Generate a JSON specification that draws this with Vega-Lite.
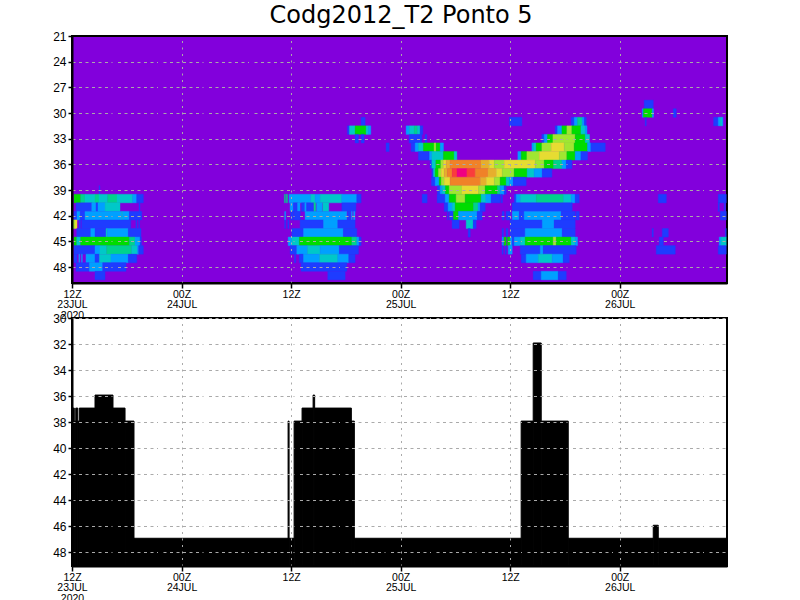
{"$schema":"https://vega.github.io/schema/vega-lite/v6.json","padding":{"left":51,"top":4,"right":0,"bottom":0},"background":"white","title":{"text":"Codg2012_T2 Ponto 5","font":"DejaVu Sans","fontSize":24,"fontWeight":"normal","color":"black","anchor":"middle","offset":1,"dx":11},"spacing":35,"bounds":"flush","config":{"view":{"stroke":"black","strokeWidth":2}},"datasets":{"cells":[
{"t0":2.96,"t1":3.05,"y0":38.5,"y1":39.5,"c":1},
{"t0":0.22,"t1":0.95,"y0":39.5,"y1":40.5,"c":5},{"t0":0.95,"t1":1.42,"y0":39.5,"y1":40.5,"c":4},{"t0":1.42,"t1":2.52,"y0":39.5,"y1":40.5,"c":3},{"t0":2.52,"t1":2.96,"y0":39.5,"y1":40.5,"c":4},{"t0":2.96,"t1":3.91,"y0":39.5,"y1":40.5,"c":3},{"t0":3.91,"t1":4.93,"y0":39.5,"y1":40.5,"c":4},{"t0":4.93,"t1":6.65,"y0":39.5,"y1":40.5,"c":3},{"t0":6.65,"t1":7.09,"y0":39.5,"y1":40.5,"c":2},{"t0":7.09,"t1":7.81,"y0":39.5,"y1":40.5,"c":1},
{"t0":0.44,"t1":2.16,"y0":40.5,"y1":41.5,"c":1},{"t0":2.16,"t1":2.63,"y0":40.5,"y1":41.5,"c":2},{"t0":2.63,"t1":2.85,"y0":40.5,"y1":41.5,"c":1},{"t0":2.85,"t1":3.62,"y0":40.5,"y1":41.5,"c":2},{"t0":3.62,"t1":5.26,"y0":40.5,"y1":41.5,"c":3},{"t0":7.34,"t1":7.45,"y0":40.5,"y1":41.5,"c":1},
{"t0":0.22,"t1":0.55,"y0":41.5,"y1":42.5,"c":1},{"t0":0.55,"t1":0.9,"y0":41.5,"y1":42.5,"c":2},{"t0":0.9,"t1":1.42,"y0":41.5,"y1":42.5,"c":1},{"t0":1.42,"t1":5.45,"y0":41.5,"y1":42.5,"c":2},{"t0":5.45,"t1":5.56,"y0":41.5,"y1":42.5,"c":3},{"t0":5.56,"t1":6.28,"y0":41.5,"y1":42.5,"c":2},{"t0":6.28,"t1":7.64,"y0":41.5,"y1":42.5,"c":1},
{"t0":0.11,"t1":0.33,"y0":42.5,"y1":43.5,"c":6},{"t0":0.33,"t1":0.55,"y0":42.5,"y1":43.5,"c":7},{"t0":0.77,"t1":0.95,"y0":42.5,"y1":43.5,"c":1},{"t0":1.06,"t1":6.43,"y0":42.5,"y1":43.5,"c":1},{"t0":7.0,"t1":7.1,"y0":42.5,"y1":43.5,"c":1},{"t0":7.3,"t1":7.4,"y0":42.5,"y1":43.5,"c":1},
{"t0":0.52,"t1":2.05,"y0":43.5,"y1":44.5,"c":1},{"t0":2.05,"t1":2.52,"y0":43.5,"y1":44.5,"c":2},{"t0":2.52,"t1":3.73,"y0":43.5,"y1":44.5,"c":1},{"t0":3.73,"t1":3.88,"y0":43.5,"y1":44.5,"c":3},{"t0":3.88,"t1":6.17,"y0":43.5,"y1":44.5,"c":2},{"t0":6.17,"t1":7.56,"y0":43.5,"y1":44.5,"c":1},
{"t0":0.22,"t1":0.52,"y0":44.5,"y1":45.5,"c":5},{"t0":0.52,"t1":0.95,"y0":44.5,"y1":45.5,"c":3},{"t0":0.95,"t1":6.28,"y0":44.5,"y1":45.5,"c":5},{"t0":6.28,"t1":6.9,"y0":44.5,"y1":45.5,"c":4},{"t0":6.9,"t1":7.45,"y0":44.5,"y1":45.5,"c":2},{"t0":7.45,"t1":7.6,"y0":44.5,"y1":45.5,"c":1},
{"t0":0.22,"t1":2.52,"y0":45.5,"y1":46.5,"c":1},{"t0":2.52,"t1":3.07,"y0":45.5,"y1":46.5,"c":2},{"t0":3.07,"t1":3.8,"y0":45.5,"y1":46.5,"c":3},{"t0":3.8,"t1":6.54,"y0":45.5,"y1":46.5,"c":4},{"t0":6.54,"t1":7.16,"y0":45.5,"y1":46.5,"c":3},{"t0":7.16,"t1":7.31,"y0":45.5,"y1":46.5,"c":2},{"t0":7.31,"t1":7.81,"y0":45.5,"y1":46.5,"c":1},
{"t0":0.22,"t1":0.55,"y0":46.5,"y1":47.5,"c":1},{"t0":0.75,"t1":0.85,"y0":46.5,"y1":47.5,"c":2},{"t0":1.03,"t1":1.13,"y0":46.5,"y1":47.5,"c":2},{"t0":1.53,"t1":2.52,"y0":46.5,"y1":47.5,"c":2},{"t0":2.52,"t1":3.0,"y0":46.5,"y1":47.5,"c":1},{"t0":3.0,"t1":4.27,"y0":46.5,"y1":47.5,"c":3},{"t0":4.27,"t1":6.17,"y0":46.5,"y1":47.5,"c":2},{"t0":6.17,"t1":7.09,"y0":46.5,"y1":47.5,"c":1},
{"t0":0.44,"t1":1.9,"y0":47.5,"y1":48.5,"c":1},{"t0":1.9,"t1":3.37,"y0":47.5,"y1":48.5,"c":2},{"t0":3.37,"t1":5.92,"y0":47.5,"y1":48.5,"c":1},
{"t0":2.52,"t1":3.62,"y0":48.5,"y1":49.5,"c":1},
{"t0":23.27,"t1":23.37,"y0":39.5,"y1":40.5,"c":4},{"t0":23.47,"t1":23.6,"y0":39.5,"y1":40.5,"c":4},{"t0":23.78,"t1":26.16,"y0":39.5,"y1":40.5,"c":2},{"t0":26.16,"t1":26.63,"y0":39.5,"y1":40.5,"c":3},{"t0":26.63,"t1":27.18,"y0":39.5,"y1":40.5,"c":2},{"t0":27.18,"t1":29.56,"y0":39.5,"y1":40.5,"c":3},{"t0":29.56,"t1":31.2,"y0":39.5,"y1":40.5,"c":2},{"t0":31.2,"t1":31.67,"y0":39.5,"y1":40.5,"c":1},
{"t0":23.89,"t1":24.25,"y0":40.5,"y1":41.5,"c":2},{"t0":24.25,"t1":24.7,"y0":40.5,"y1":41.5,"c":1},{"t0":24.7,"t1":24.98,"y0":40.5,"y1":41.5,"c":2},{"t0":25.15,"t1":25.5,"y0":40.5,"y1":41.5,"c":1},{"t0":25.5,"t1":25.7,"y0":40.5,"y1":41.5,"c":2},{"t0":25.7,"t1":26.45,"y0":40.5,"y1":41.5,"c":1},{"t0":26.5,"t1":26.7,"y0":40.5,"y1":41.5,"c":4},{"t0":26.8,"t1":27.4,"y0":40.5,"y1":41.5,"c":2},{"t0":27.47,"t1":28.13,"y0":40.5,"y1":41.5,"c":3},{"t0":29.56,"t1":31.1,"y0":40.5,"y1":41.5,"c":1},
{"t0":23.3,"t1":23.4,"y0":41.5,"y1":42.5,"c":2},{"t0":23.95,"t1":24.25,"y0":41.5,"y1":42.5,"c":1},{"t0":24.3,"t1":25.0,"y0":41.5,"y1":42.5,"c":1},{"t0":25.53,"t1":30.1,"y0":41.5,"y1":42.5,"c":2},{"t0":30.2,"t1":30.5,"y0":41.5,"y1":42.5,"c":1},{"t0":30.6,"t1":30.7,"y0":41.5,"y1":42.5,"c":2},{"t0":30.85,"t1":31.0,"y0":41.5,"y1":42.5,"c":2},
{"t0":23.3,"t1":23.4,"y0":42.5,"y1":43.5,"c":1},{"t0":23.65,"t1":23.75,"y0":42.5,"y1":43.5,"c":1},{"t0":24.99,"t1":27.54,"y0":42.5,"y1":43.5,"c":1},{"t0":27.54,"t1":29.12,"y0":42.5,"y1":43.5,"c":2},{"t0":29.12,"t1":31.01,"y0":42.5,"y1":43.5,"c":1},
{"t0":24.08,"t1":25.35,"y0":43.5,"y1":44.5,"c":1},{"t0":25.35,"t1":29.73,"y0":43.5,"y1":44.5,"c":2},{"t0":29.73,"t1":31.2,"y0":43.5,"y1":44.5,"c":1},
{"t0":23.68,"t1":24.08,"y0":44.5,"y1":45.5,"c":2},{"t0":24.08,"t1":24.91,"y0":44.5,"y1":45.5,"c":3},{"t0":24.91,"t1":30.65,"y0":44.5,"y1":45.5,"c":5},{"t0":30.65,"t1":31.2,"y0":44.5,"y1":45.5,"c":4},{"t0":31.2,"t1":31.45,"y0":44.5,"y1":45.5,"c":2},{"t0":31.45,"t1":31.67,"y0":44.5,"y1":45.5,"c":1},
{"t0":23.9,"t1":24.62,"y0":45.5,"y1":46.5,"c":1},{"t0":24.62,"t1":25.79,"y0":45.5,"y1":46.5,"c":2},{"t0":25.79,"t1":27.18,"y0":45.5,"y1":46.5,"c":3},{"t0":27.18,"t1":29.29,"y0":45.5,"y1":46.5,"c":2},{"t0":29.29,"t1":31.38,"y0":45.5,"y1":46.5,"c":1},
{"t0":24.38,"t1":24.5,"y0":46.5,"y1":47.5,"c":1},{"t0":24.9,"t1":25.35,"y0":46.5,"y1":47.5,"c":1},{"t0":25.35,"t1":27.12,"y0":46.5,"y1":47.5,"c":2},{"t0":27.12,"t1":29.12,"y0":46.5,"y1":47.5,"c":3},{"t0":29.12,"t1":30.32,"y0":46.5,"y1":47.5,"c":2},{"t0":30.32,"t1":31.01,"y0":46.5,"y1":47.5,"c":1},
{"t0":25.1,"t1":30.1,"y0":47.5,"y1":48.5,"c":1},
{"t0":28.02,"t1":29.92,"y0":48.5,"y1":49.5,"c":1},
{"t0":31.67,"t1":32.11,"y0":30.5,"y1":31.5,"c":1},{"t0":47.92,"t1":49.28,"y0":30.5,"y1":31.5,"c":1},{"t0":54.68,"t1":55.01,"y0":30.5,"y1":31.5,"c":1},{"t0":55.01,"t1":55.38,"y0":30.5,"y1":31.5,"c":2},{"t0":55.38,"t1":55.89,"y0":30.5,"y1":31.5,"c":4},{"t0":55.89,"t1":56.11,"y0":30.5,"y1":31.5,"c":2},{"t0":56.11,"t1":56.33,"y0":30.5,"y1":31.5,"c":1},
{"t0":30.17,"t1":30.39,"y0":31.5,"y1":32.5,"c":1},{"t0":30.39,"t1":31.01,"y0":31.5,"y1":32.5,"c":3},{"t0":31.01,"t1":32.22,"y0":31.5,"y1":32.5,"c":5},{"t0":32.22,"t1":32.47,"y0":31.5,"y1":32.5,"c":3},{"t0":32.47,"t1":32.73,"y0":31.5,"y1":32.5,"c":2},
{"t0":36.6,"t1":36.96,"y0":31.5,"y1":32.5,"c":2},{"t0":36.96,"t1":37.48,"y0":31.5,"y1":32.5,"c":3},{"t0":37.48,"t1":37.84,"y0":31.5,"y1":32.5,"c":4},{"t0":37.84,"t1":38.14,"y0":31.5,"y1":32.5,"c":3},{"t0":38.14,"t1":38.43,"y0":31.5,"y1":32.5,"c":1},
{"t0":52.93,"t1":53.18,"y0":31.5,"y1":32.5,"c":1},{"t0":53.18,"t1":53.67,"y0":31.5,"y1":32.5,"c":2},{"t0":53.67,"t1":54.21,"y0":31.5,"y1":32.5,"c":5},{"t0":54.21,"t1":54.76,"y0":31.5,"y1":32.5,"c":6},{"t0":54.76,"t1":55.75,"y0":31.5,"y1":32.5,"c":5},{"t0":55.75,"t1":56.22,"y0":31.5,"y1":32.5,"c":3},{"t0":56.22,"t1":56.41,"y0":31.5,"y1":32.5,"c":2},
{"t0":31.01,"t1":31.38,"y0":32.5,"y1":33.5,"c":1},{"t0":31.67,"t1":32.0,"y0":32.5,"y1":33.5,"c":1},{"t0":36.93,"t1":38.32,"y0":32.5,"y1":33.5,"c":1},{"t0":38.68,"t1":38.87,"y0":32.5,"y1":33.5,"c":1},
{"t0":51.47,"t1":51.73,"y0":32.5,"y1":33.5,"c":1},{"t0":51.73,"t1":52.09,"y0":32.5,"y1":33.5,"c":2},{"t0":52.09,"t1":52.68,"y0":32.5,"y1":33.5,"c":5},{"t0":52.68,"t1":55.12,"y0":32.5,"y1":33.5,"c":6},{"t0":55.12,"t1":56.22,"y0":32.5,"y1":33.5,"c":5},{"t0":56.22,"t1":56.69,"y0":32.5,"y1":33.5,"c":3},
{"t0":34.41,"t1":34.74,"y0":33.5,"y1":34.5,"c":1},{"t0":37.15,"t1":37.59,"y0":33.5,"y1":34.5,"c":1},{"t0":37.59,"t1":37.95,"y0":33.5,"y1":34.5,"c":2},{"t0":37.95,"t1":38.5,"y0":33.5,"y1":34.5,"c":3},{"t0":38.5,"t1":39.67,"y0":33.5,"y1":34.5,"c":5},{"t0":39.67,"t1":39.89,"y0":33.5,"y1":34.5,"c":6},{"t0":39.89,"t1":40.33,"y0":33.5,"y1":34.5,"c":5},{"t0":40.33,"t1":40.69,"y0":33.5,"y1":34.5,"c":2},
{"t0":50.38,"t1":50.55,"y0":33.5,"y1":34.5,"c":2},{"t0":50.55,"t1":50.85,"y0":33.5,"y1":34.5,"c":3},{"t0":50.85,"t1":51.47,"y0":33.5,"y1":34.5,"c":5},{"t0":51.47,"t1":52.49,"y0":33.5,"y1":34.5,"c":6},{"t0":52.49,"t1":53.92,"y0":33.5,"y1":34.5,"c":7},{"t0":53.92,"t1":55.01,"y0":33.5,"y1":34.5,"c":6},{"t0":55.01,"t1":56.47,"y0":33.5,"y1":34.5,"c":5},{"t0":56.47,"t1":56.84,"y0":33.5,"y1":34.5,"c":2},{"t0":56.84,"t1":58.41,"y0":33.5,"y1":34.5,"c":1},
{"t0":37.95,"t1":39.16,"y0":34.5,"y1":35.5,"c":1},{"t0":39.16,"t1":39.42,"y0":34.5,"y1":35.5,"c":2},{"t0":39.42,"t1":40.69,"y0":34.5,"y1":35.5,"c":3},{"t0":40.69,"t1":41.86,"y0":34.5,"y1":35.5,"c":5},{"t0":41.86,"t1":42.16,"y0":34.5,"y1":35.5,"c":3},
{"t0":48.84,"t1":49.21,"y0":34.5,"y1":35.5,"c":2},{"t0":49.21,"t1":49.83,"y0":34.5,"y1":35.5,"c":5},{"t0":49.83,"t1":51.18,"y0":34.5,"y1":35.5,"c":6},{"t0":51.18,"t1":53.37,"y0":34.5,"y1":35.5,"c":7},{"t0":53.37,"t1":54.21,"y0":34.5,"y1":35.5,"c":6},{"t0":54.21,"t1":55.12,"y0":34.5,"y1":35.5,"c":5},{"t0":55.12,"t1":55.75,"y0":34.5,"y1":35.5,"c":2},{"t0":55.75,"t1":56.47,"y0":34.5,"y1":35.5,"c":1},
{"t0":39.23,"t1":39.42,"y0":35.5,"y1":36.5,"c":1},{"t0":39.42,"t1":39.86,"y0":35.5,"y1":36.5,"c":3},{"t0":39.86,"t1":40.4,"y0":35.5,"y1":36.5,"c":5},{"t0":40.4,"t1":40.69,"y0":35.5,"y1":36.5,"c":6},{"t0":40.69,"t1":40.99,"y0":35.5,"y1":36.5,"c":7},{"t0":40.99,"t1":41.42,"y0":35.5,"y1":36.5,"c":8},{"t0":41.42,"t1":44.79,"y0":35.5,"y1":36.5,"c":9},{"t0":44.79,"t1":45.7,"y0":35.5,"y1":36.5,"c":8},{"t0":45.7,"t1":46.25,"y0":35.5,"y1":36.5,"c":7},{"t0":46.25,"t1":47.34,"y0":35.5,"y1":36.5,"c":6},{"t0":47.34,"t1":50.74,"y0":35.5,"y1":36.5,"c":7},{"t0":50.74,"t1":51.73,"y0":35.5,"y1":36.5,"c":6},{"t0":51.73,"t1":52.75,"y0":35.5,"y1":36.5,"c":5},{"t0":52.75,"t1":53.67,"y0":35.5,"y1":36.5,"c":4},{"t0":53.67,"t1":54.14,"y0":35.5,"y1":36.5,"c":2},{"t0":54.14,"t1":54.76,"y0":35.5,"y1":36.5,"c":1},
{"t0":39.42,"t1":39.6,"y0":36.5,"y1":37.5,"c":1},{"t0":39.6,"t1":39.78,"y0":36.5,"y1":37.5,"c":3},{"t0":39.78,"t1":40.14,"y0":36.5,"y1":37.5,"c":5},{"t0":40.14,"t1":40.44,"y0":36.5,"y1":37.5,"c":6},{"t0":40.44,"t1":40.77,"y0":36.5,"y1":37.5,"c":7},{"t0":40.77,"t1":41.13,"y0":36.5,"y1":37.5,"c":8},{"t0":41.13,"t1":41.64,"y0":36.5,"y1":37.5,"c":9},{"t0":41.64,"t1":42.19,"y0":36.5,"y1":37.5,"c":10},{"t0":42.19,"t1":43.25,"y0":36.5,"y1":37.5,"c":11},{"t0":43.25,"t1":44.16,"y0":36.5,"y1":37.5,"c":10},{"t0":44.16,"t1":45.56,"y0":36.5,"y1":37.5,"c":9},{"t0":45.56,"t1":46.47,"y0":36.5,"y1":37.5,"c":8},{"t0":46.47,"t1":47.12,"y0":36.5,"y1":37.5,"c":7},{"t0":47.12,"t1":48.44,"y0":36.5,"y1":37.5,"c":6},{"t0":48.44,"t1":49.86,"y0":36.5,"y1":37.5,"c":5},{"t0":49.86,"t1":50.63,"y0":36.5,"y1":37.5,"c":3},{"t0":50.63,"t1":51.51,"y0":36.5,"y1":37.5,"c":2},{"t0":51.51,"t1":52.57,"y0":36.5,"y1":37.5,"c":1},
{"t0":39.38,"t1":39.78,"y0":37.5,"y1":38.5,"c":1},{"t0":39.78,"t1":40.22,"y0":37.5,"y1":38.5,"c":2},{"t0":40.22,"t1":40.44,"y0":37.5,"y1":38.5,"c":5},{"t0":40.44,"t1":40.77,"y0":37.5,"y1":38.5,"c":6},{"t0":40.77,"t1":41.42,"y0":37.5,"y1":38.5,"c":7},{"t0":41.42,"t1":44.71,"y0":37.5,"y1":38.5,"c":9},{"t0":44.71,"t1":45.37,"y0":37.5,"y1":38.5,"c":8},{"t0":45.37,"t1":46.25,"y0":37.5,"y1":38.5,"c":7},{"t0":46.25,"t1":46.9,"y0":37.5,"y1":38.5,"c":6},{"t0":46.9,"t1":47.56,"y0":37.5,"y1":38.5,"c":5},{"t0":47.56,"t1":47.89,"y0":37.5,"y1":38.5,"c":3},{"t0":47.89,"t1":48.33,"y0":37.5,"y1":38.5,"c":2},{"t0":48.33,"t1":49.75,"y0":37.5,"y1":38.5,"c":1},
{"t0":40.03,"t1":40.33,"y0":38.5,"y1":39.5,"c":1},{"t0":40.33,"t1":40.55,"y0":38.5,"y1":39.5,"c":2},{"t0":40.55,"t1":40.91,"y0":38.5,"y1":39.5,"c":3},{"t0":40.91,"t1":41.32,"y0":38.5,"y1":39.5,"c":5},{"t0":41.32,"t1":42.71,"y0":38.5,"y1":39.5,"c":6},{"t0":42.71,"t1":44.53,"y0":38.5,"y1":39.5,"c":7},{"t0":44.53,"t1":45.26,"y0":38.5,"y1":39.5,"c":6},{"t0":45.26,"t1":46.61,"y0":38.5,"y1":39.5,"c":5},{"t0":46.61,"t1":46.9,"y0":38.5,"y1":39.5,"c":4},{"t0":46.9,"t1":47.34,"y0":38.5,"y1":39.5,"c":2},{"t0":47.34,"t1":47.56,"y0":38.5,"y1":39.5,"c":1},
{"t0":38.36,"t1":38.9,"y0":39.5,"y1":40.5,"c":1},{"t0":40.0,"t1":40.88,"y0":39.5,"y1":40.5,"c":1},{"t0":40.88,"t1":41.32,"y0":39.5,"y1":40.5,"c":2},{"t0":41.32,"t1":42.08,"y0":39.5,"y1":40.5,"c":5},{"t0":42.08,"t1":43.07,"y0":39.5,"y1":40.5,"c":6},{"t0":43.07,"t1":44.82,"y0":39.5,"y1":40.5,"c":5},{"t0":44.82,"t1":45.34,"y0":39.5,"y1":40.5,"c":3},{"t0":45.34,"t1":45.92,"y0":39.5,"y1":40.5,"c":2},{"t0":45.92,"t1":46.9,"y0":39.5,"y1":40.5,"c":1},{"t0":47.01,"t1":47.15,"y0":39.5,"y1":40.5,"c":1},
{"t0":48.44,"t1":48.66,"y0":39.5,"y1":40.5,"c":1},{"t0":48.66,"t1":49.1,"y0":39.5,"y1":40.5,"c":2},{"t0":49.1,"t1":50.85,"y0":39.5,"y1":40.5,"c":3},{"t0":50.85,"t1":53.84,"y0":39.5,"y1":40.5,"c":4},{"t0":53.84,"t1":54.68,"y0":39.5,"y1":40.5,"c":3},{"t0":54.68,"t1":55.12,"y0":39.5,"y1":40.5,"c":2},{"t0":55.12,"t1":55.56,"y0":39.5,"y1":40.5,"c":1},
{"t0":40.77,"t1":41.2,"y0":40.5,"y1":41.5,"c":1},{"t0":41.2,"t1":41.64,"y0":40.5,"y1":41.5,"c":2},{"t0":41.64,"t1":41.97,"y0":40.5,"y1":41.5,"c":3},{"t0":41.97,"t1":43.98,"y0":40.5,"y1":41.5,"c":5},{"t0":43.98,"t1":44.49,"y0":40.5,"y1":41.5,"c":4},{"t0":44.49,"t1":44.71,"y0":40.5,"y1":41.5,"c":2},{"t0":44.71,"t1":45.26,"y0":40.5,"y1":41.5,"c":1},{"t0":48.22,"t1":54.79,"y0":40.5,"y1":41.5,"c":1},
{"t0":41.13,"t1":41.2,"y0":41.5,"y1":42.5,"c":1},{"t0":41.35,"t1":41.79,"y0":41.5,"y1":42.5,"c":1},{"t0":41.79,"t1":42.33,"y0":41.5,"y1":42.5,"c":5},{"t0":42.33,"t1":44.38,"y0":41.5,"y1":42.5,"c":2},{"t0":44.38,"t1":44.93,"y0":41.5,"y1":42.5,"c":1},{"t0":47.12,"t1":47.34,"y0":41.5,"y1":42.5,"c":1},{"t0":47.56,"t1":48.0,"y0":41.5,"y1":42.5,"c":1},{"t0":48.22,"t1":48.99,"y0":41.5,"y1":42.5,"c":2},{"t0":48.99,"t1":49.53,"y0":41.5,"y1":42.5,"c":1},{"t0":49.53,"t1":53.59,"y0":41.5,"y1":42.5,"c":2},{"t0":53.59,"t1":55.12,"y0":41.5,"y1":42.5,"c":1},{"t0":55.23,"t1":55.56,"y0":41.5,"y1":42.5,"c":1},
{"t0":41.64,"t1":42.41,"y0":42.5,"y1":43.5,"c":1},{"t0":43.18,"t1":43.95,"y0":42.5,"y1":43.5,"c":3},{"t0":43.95,"t1":44.27,"y0":42.5,"y1":43.5,"c":1},{"t0":48.0,"t1":51.51,"y0":42.5,"y1":43.5,"c":1},{"t0":51.51,"t1":52.82,"y0":42.5,"y1":43.5,"c":2},{"t0":52.82,"t1":55.12,"y0":42.5,"y1":43.5,"c":1},
{"t0":43.4,"t1":43.62,"y0":43.5,"y1":44.5,"c":1},{"t0":47.12,"t1":47.26,"y0":43.5,"y1":44.5,"c":1},{"t0":47.56,"t1":47.75,"y0":43.5,"y1":44.5,"c":1},{"t0":48.0,"t1":49.64,"y0":43.5,"y1":44.5,"c":1},{"t0":49.64,"t1":53.7,"y0":43.5,"y1":44.5,"c":2},{"t0":53.7,"t1":55.12,"y0":43.5,"y1":44.5,"c":1},
{"t0":47.12,"t1":47.26,"y0":44.5,"y1":45.5,"c":2},{"t0":47.34,"t1":47.56,"y0":44.5,"y1":45.5,"c":5},{"t0":47.7,"t1":48.0,"y0":44.5,"y1":45.5,"c":5},{"t0":48.0,"t1":48.22,"y0":44.5,"y1":45.5,"c":2},{"t0":48.22,"t1":48.44,"y0":44.5,"y1":45.5,"c":1},{"t0":48.44,"t1":49.1,"y0":44.5,"y1":45.5,"c":2},{"t0":49.1,"t1":49.64,"y0":44.5,"y1":45.5,"c":3},{"t0":49.64,"t1":52.71,"y0":44.5,"y1":45.5,"c":5},{"t0":52.71,"t1":53.04,"y0":44.5,"y1":45.5,"c":6},{"t0":53.04,"t1":54.68,"y0":44.5,"y1":45.5,"c":5},{"t0":54.68,"t1":55.12,"y0":44.5,"y1":45.5,"c":3},{"t0":55.12,"t1":55.38,"y0":44.5,"y1":45.5,"c":2},
{"t0":47.12,"t1":47.23,"y0":45.5,"y1":46.5,"c":1},{"t0":47.45,"t1":47.56,"y0":45.5,"y1":46.5,"c":1},{"t0":47.78,"t1":48.22,"y0":45.5,"y1":46.5,"c":2},{"t0":49.1,"t1":51.29,"y0":45.5,"y1":46.5,"c":1},{"t0":51.29,"t1":51.62,"y0":45.5,"y1":46.5,"c":2},{"t0":51.62,"t1":55.23,"y0":45.5,"y1":46.5,"c":1},
{"t0":49.21,"t1":49.75,"y0":46.5,"y1":47.5,"c":1},{"t0":49.75,"t1":51.07,"y0":46.5,"y1":47.5,"c":2},{"t0":51.07,"t1":52.6,"y0":46.5,"y1":47.5,"c":3},{"t0":52.6,"t1":53.8,"y0":46.5,"y1":47.5,"c":2},{"t0":53.8,"t1":54.47,"y0":46.5,"y1":47.5,"c":1},
{"t0":50.52,"t1":51.4,"y0":48.5,"y1":49.5,"c":1},{"t0":51.4,"t1":53.26,"y0":48.5,"y1":49.5,"c":2},{"t0":53.26,"t1":54.14,"y0":48.5,"y1":49.5,"c":1},
{"t0":62.68,"t1":63.67,"y0":28.5,"y1":29.5,"c":1},
{"t0":62.47,"t1":62.6,"y0":29.5,"y1":30.5,"c":2},{"t0":62.6,"t1":63.56,"y0":29.5,"y1":30.5,"c":5},{"t0":63.56,"t1":63.7,"y0":29.5,"y1":30.5,"c":2},{"t0":65.86,"t1":66.19,"y0":29.5,"y1":30.5,"c":1},
{"t0":62.79,"t1":62.9,"y0":30.5,"y1":31.5,"c":1},{"t0":70.28,"t1":70.79,"y0":30.5,"y1":31.5,"c":1},{"t0":70.79,"t1":71.01,"y0":30.5,"y1":31.5,"c":2},{"t0":71.01,"t1":71.23,"y0":30.5,"y1":31.5,"c":3},{"t0":71.23,"t1":71.31,"y0":30.5,"y1":31.5,"c":2},
{"t0":64.22,"t1":65.1,"y0":39.5,"y1":40.5,"c":1},{"t0":70.79,"t1":71.67,"y0":39.5,"y1":40.5,"c":1},
{"t0":70.79,"t1":70.9,"y0":40.5,"y1":41.5,"c":1},{"t0":71.45,"t1":71.56,"y0":40.5,"y1":41.5,"c":1},
{"t0":71.01,"t1":71.67,"y0":41.5,"y1":42.5,"c":1},
{"t0":63.56,"t1":63.67,"y0":43.5,"y1":44.5,"c":1},{"t0":64.66,"t1":65.32,"y0":43.5,"y1":44.5,"c":1},{"t0":71.56,"t1":71.67,"y0":43.5,"y1":44.5,"c":1},
{"t0":64.33,"t1":64.77,"y0":44.5,"y1":45.5,"c":1},{"t0":70.9,"t1":71.1,"y0":44.5,"y1":45.5,"c":2},{"t0":71.1,"t1":71.67,"y0":44.5,"y1":45.5,"c":3},
{"t0":64.0,"t1":66.08,"y0":45.5,"y1":46.5,"c":1},{"t0":70.79,"t1":71.67,"y0":45.5,"y1":46.5,"c":1}
],"steps":[
{"t0":0,"t1":0.25,"top":36.92,"base":49.05},{"t0":0.25,"t1":0.41,"top":37.92,"base":49.05},{"t0":0.41,"t1":0.63,"top":36.92,"base":49.05},{"t0":0.63,"t1":0.8,"top":37.92,"base":49.05},{"t0":0.8,"t1":2.52,"top":36.92,"base":49.05},{"t0":2.52,"t1":4.49,"top":35.92,"base":49.05},{"t0":4.49,"t1":5.81,"top":36.92,"base":49.05},{"t0":5.81,"t1":6.79,"top":37.92,"base":49.05},{"t0":6.79,"t1":23.67,"top":46.92,"base":49.05},{"t0":23.67,"t1":23.78,"top":37.92,"base":49.05},{"t0":23.78,"t1":24.33,"top":46.92,"base":49.05},{"t0":24.33,"t1":25.2,"top":37.92,"base":49.05},{"t0":25.2,"t1":26.41,"top":36.92,"base":49.05},{"t0":26.41,"t1":26.58,"top":35.92,"base":49.05},{"t0":26.58,"t1":30.6,"top":36.92,"base":49.05},{"t0":30.6,"t1":30.93,"top":37.92,"base":49.05},{"t0":30.93,"t1":49.2,"top":46.92,"base":49.05},{"t0":49.2,"t1":50.52,"top":37.92,"base":49.05},{"t0":50.52,"t1":51.4,"top":31.92,"base":49.05},{"t0":51.4,"t1":54.36,"top":37.92,"base":49.05},{"t0":54.36,"t1":63.67,"top":46.92,"base":49.05},{"t0":63.67,"t1":64.22,"top":45.92,"base":49.05},{"t0":64.22,"t1":71.75,"top":46.92,"base":49.05}
]},"vconcat":[
{"width":655,"height":247,"view":{"fill":"#8200dc","stroke":"black","strokeWidth":2},"data":{"name":"cells"},"mark":{"type":"rect","strokeWidth":0.4},"encoding":{
"x":{"field":"t0","type":"quantitative","scale":{"domain":[0,71.75],"nice":false,"zero":false},"axis":{"title":null,"values":[0,12,24,36,48,60],"labelExpr":"datum.value==0?['12Z','23JUL','2020']:datum.value==12?['00Z','24JUL']:datum.value==24?'12Z':datum.value==36?['00Z','25JUL']:datum.value==48?'12Z':['00Z','26JUL']","labelFont":"Liberation Sans","labelFontSize":10.5,"labelColor":"black","labelLineHeight":10.5,"labelPadding":1,"labelFlush":false,"labelOverlap":false,"labelAngle":0,"tickColor":"black","tickSize":5,"tickWidth":1.5,"domainColor":"black","domainWidth":2,"grid":true,"gridColor":{"condition":{"test":"datum.value==0","value":"transparent"},"value":"#aaaaaa"},"gridWidth":1,"gridDash":[2,4.5],"zindex":1}},
"x2":{"field":"t1"},
"y":{"field":"y0","type":"quantitative","scale":{"domain":[21,49.87],"reverse":true,"nice":false,"zero":false},"axis":{"title":null,"values":[21,24,27,30,33,36,39,42,45,48],"labelFont":"Liberation Sans","labelFontSize":12,"labelColor":"black","labelPadding":2,"labelFlush":false,"labelOverlap":false,"tickColor":"black","tickSize":4,"tickWidth":1.5,"domainColor":"black","domainWidth":2,"grid":true,"gridColor":{"condition":{"test":"datum.value==21","value":"transparent"},"value":"#aaaaaa"},"gridWidth":1,"gridDash":[3,3.5,3,3.5,3,3.5,3,3.5,3,3.5,3,3.5,1,5.5],"zindex":1}},
"y2":{"field":"y1"},
"color":{"field":"c","type":"ordinal","legend":null,"scale":{"domain":[1,2,3,4,5,6,7,8,9,10,11],"range":["#1e3cff","#00a0ff","#00c8c8","#00d28c","#00dc00","#a0e632","#e6dc32","#e6af2d","#f08228","#fa3c3c","#f00082"]}},
"stroke":{"field":"c","type":"ordinal","legend":null,"scale":{"domain":[1,2,3,4,5,6,7,8,9,10,11],"range":["#1e3cff","#00a0ff","#00c8c8","#00d28c","#00dc00","#a0e632","#e6dc32","#e6af2d","#f08228","#fa3c3c","#f00082"]}}
}},
{"width":655,"height":248,"view":{"fill":"white","stroke":"black","strokeWidth":2},"data":{"name":"steps"},"mark":{"type":"rect","color":"black","stroke":"black","strokeWidth":1},"encoding":{
"x":{"field":"t0","type":"quantitative","scale":{"domain":[0,71.75],"nice":false,"zero":false},"axis":{"title":null,"values":[0,12,24,36,48,60],"labelExpr":"datum.value==0?['12Z','23JUL','2020']:datum.value==12?['00Z','24JUL']:datum.value==24?'12Z':datum.value==36?['00Z','25JUL']:datum.value==48?'12Z':['00Z','26JUL']","labelFont":"Liberation Sans","labelFontSize":10.5,"labelColor":"black","labelLineHeight":10.5,"labelPadding":1,"labelFlush":false,"labelOverlap":false,"labelAngle":0,"tickColor":"black","tickSize":5,"tickWidth":1.5,"domainColor":"black","domainWidth":2,"grid":true,"gridColor":"#aaaaaa","gridWidth":1,"gridDash":[2,4.5],"zindex":1}},
"x2":{"field":"t1"},
"y":{"field":"top","type":"quantitative","scale":{"domain":[30,49.05],"reverse":true,"nice":false,"zero":false},"axis":{"title":null,"values":[30,32,34,36,38,40,42,44,46,48],"labelFont":"Liberation Sans","labelFontSize":12,"labelColor":"black","labelPadding":2,"labelFlush":false,"labelOverlap":false,"tickColor":"black","tickSize":4,"tickWidth":1.5,"domainColor":"black","domainWidth":2,"grid":true,"gridColor":"#aaaaaa","gridWidth":1,"gridDash":[3,3.5,3,3.5,3,3.5,3,3.5,3,3.5,3,3.5,1,5.5],"zindex":1}},
"y2":{"field":"base"}
}}
]}
